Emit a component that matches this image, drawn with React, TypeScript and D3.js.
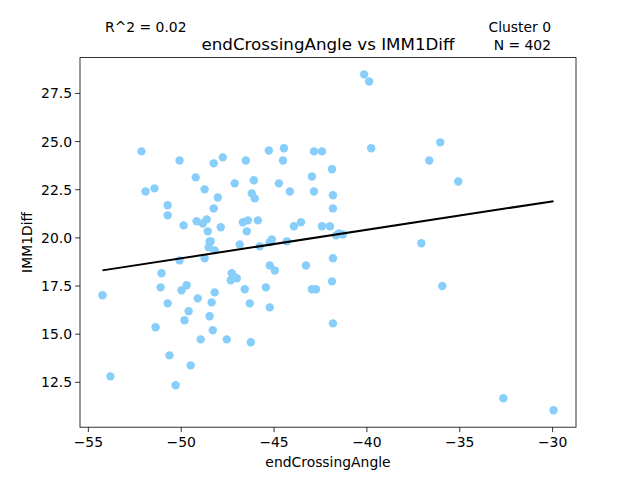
import React from "react";
import * as d3 from "d3";

const xVals = [-54.24,-53.81,-52.14,-51.92,-51.44,-51.38,-51.11,-51.06,-50.73,-50.73,-50.73,-50.63,-50.30,-50.09,-50.09,-49.98,-49.87,-49.82,-49.71,-49.60,-49.49,-49.22,-49.17,-49.11,-48.95,-48.84,-48.74,-48.74,-48.63,-48.57,-48.52,-48.47,-48.41,-48.47,-48.36,-48.30,-48.25,-48.25,-48.20,-48.20,-48.03,-47.87,-47.76,-47.55,-47.33,-47.28,-47.17,-47.12,-47.01,-46.85,-46.68,-46.58,-46.52,-46.47,-46.41,-46.31,-46.25,-46.20,-46.09,-46.04,-45.87,-45.77,-45.44,-45.28,-45.23,-45.23,-45.12,-45.23,-44.96,-44.74,-44.47,-44.52,-44.31,-44.15,-43.93,-43.55,-43.28,-42.96,-42.85,-42.85,-42.96,-42.74,-42.42,-41.99,-42.42,-41.88,-41.83,-41.88,-41.83,-41.83,-41.83,-41.66,-41.50,-41.29,-40.15,-39.88,-39.77,-37.07,-36.64,-36.05,-35.94,-35.08,-32.65,-29.95];
const yVals = [17.02,12.81,24.49,22.41,22.57,15.36,17.43,18.16,21.69,21.17,16.60,13.90,12.35,24.02,18.83,17.28,20.65,15.72,17.54,16.19,13.38,23.14,20.86,16.86,14.73,20.75,18.94,22.52,20.96,20.34,19.51,19.82,19.82,15.93,16.65,15.20,23.87,21.53,19.35,17.17,22.10,20.55,24.18,14.73,17.80,18.16,18.00,22.83,17.90,19.66,20.81,17.33,24.02,20.34,20.91,16.60,14.58,22.31,22.99,22.05,20.91,19.56,17.43,24.54,19.77,16.39,19.92,18.57,18.31,22.83,24.65,24.02,19.82,22.41,20.60,20.81,18.57,23.19,22.41,24.49,17.33,17.33,20.60,20.60,24.49,17.74,18.94,23.56,22.21,21.53,15.56,20.13,20.23,20.18,28.49,28.12,24.65,19.72,24.02,24.96,17.50,22.93,11.67,11.05];
const slope = 0.148;
const intercept = 26.34;
const xTicks = [-55, -50, -45, -40, -35, -30];
const yTicks = [12.5, 15, 17.5, 20, 22.5, 25, 27.5];

export default function App() {
  const W = 640, H = 480;
  const L = 80, R = 576, T = 57.6, B = 427.2;
  const x = d3.scaleLinear().domain([-55.45, -28.74]).range([L, R]);
  const y = d3.scaleLinear().domain([10.17, 29.36]).range([B, T]);
  const xMin = d3.min(xVals)!, xMax = d3.max(xVals)!;
  const font = "DejaVu Sans";
  const fs = 13.9;
  return (
    <svg width={W} height={H} style={{ position: "absolute", left: 0, top: 0 }} fontFamily={font}>
      <rect width={W} height={H} fill="white" />
      {xVals.map((v, i) => (
        <circle key={i} cx={x(v)} cy={y(yVals[i])} r={4.2} fill="#87CEFA" />
      ))}
      <line x1={x(xMin)} y1={y(slope * xMin + intercept)} x2={x(xMax)} y2={y(slope * xMax + intercept)} stroke="black" strokeWidth={2} />
      <rect x={L} y={T} width={R - L} height={B - T} fill="none" stroke="black" strokeWidth={0.8} />
      {xTicks.map(t => (
        <g key={t}>
          <line x1={x(t)} x2={x(t)} y1={B} y2={B + 4.9} stroke="black" strokeWidth={0.8} />
          <text x={x(t)} y={B + 20} fontSize={fs} textAnchor="middle">{"\u2212" + Math.abs(t)}</text>
        </g>
      ))}
      {yTicks.map(t => (
        <g key={t}>
          <line x1={L - 4.9} x2={L} y1={y(t)} y2={y(t)} stroke="black" strokeWidth={0.8} />
          <text x={L - 8} y={y(t) + 5} fontSize={fs} textAnchor="end">{t.toFixed(1)}</text>
        </g>
      ))}
      <text x={(L + R) / 2} y={467} fontSize={fs} textAnchor="middle">endCrossingAngle</text>
      <text transform={`translate(32,${(T + B) / 2}) rotate(-90)`} fontSize={fs} textAnchor="middle">IMM1Diff</text>
      <text x={(L + R) / 2} y={50} fontSize={16.7} textAnchor="middle">endCrossingAngle vs IMM1Diff</text>
      <text x={105} y={32} fontSize={fs}>R^2 = 0.02</text>
      <text x={551} y={32} fontSize={fs} textAnchor="end">Cluster 0</text>
      <text x={551} y={50} fontSize={fs} textAnchor="end">N = 402</text>
    </svg>
  );
}
